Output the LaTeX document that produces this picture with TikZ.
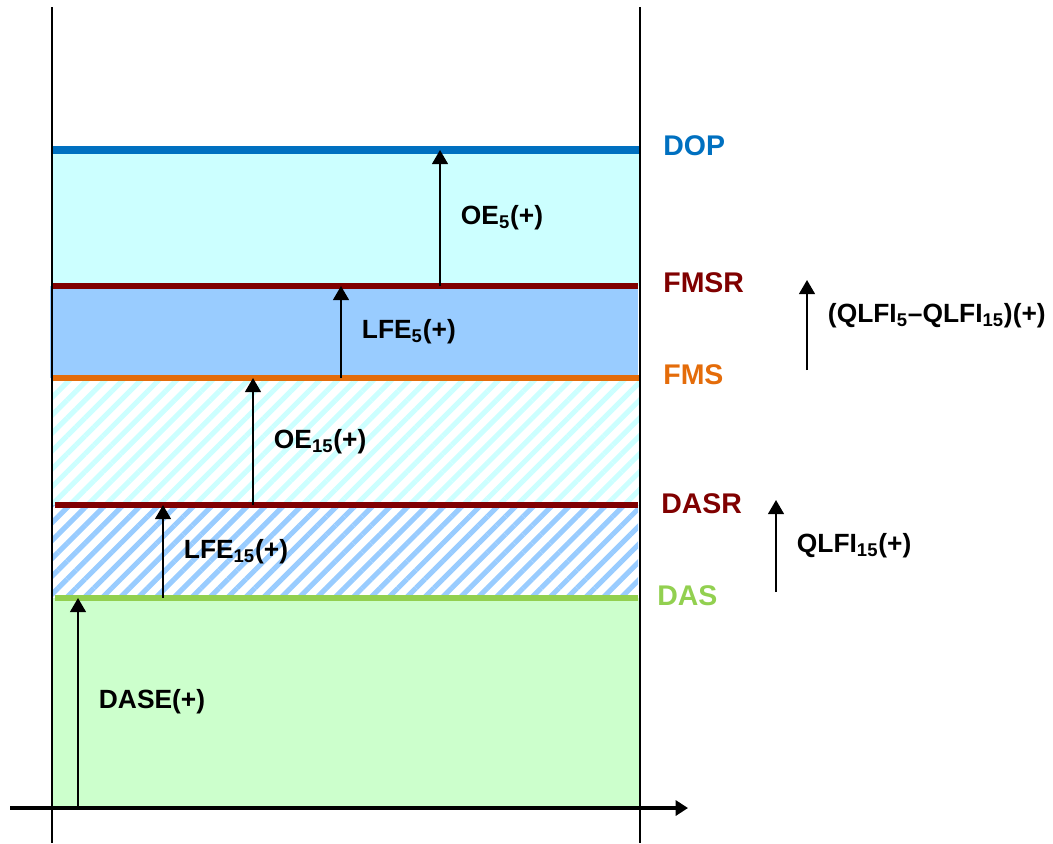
\documentclass[tikz,border=0pt]{standalone}
\usepackage{fontspec}
\setmainfont{Liberation Sans}
\usepackage{tikz}
\usetikzlibrary{arrows.meta}
\usetikzlibrary{patterns.meta}
\usetikzlibrary{positioning}

\definecolor{dopblue}{HTML}{0070C0}
\definecolor{refred}{HTML}{800000}
\definecolor{fmsorange}{HTML}{E46C0A}
\definecolor{dasgreen}{HTML}{92D050}
\definecolor{cyanfill}{HTML}{CCFFFF}
\definecolor{bluefill}{HTML}{99CCFF}
\definecolor{greenfill}{HTML}{CCFFCC}

\tikzset{
  level/.style={line width=3.4pt},
  border/.style={line width=0.8pt},
  axis/.style={line width=2.8pt, -{Triangle[length=7pt,width=8.5pt]}},
  rise/.style={line width=1.1pt, -{Triangle[length=8pt,width=9pt]}},
  lbl/.style={font=\fontsize{15}{17}\selectfont\bfseries, inner sep=0pt, right=0.4cm},
  tag/.style={font=\fontsize{16.2}{18}\selectfont\bfseries, inner sep=0pt, anchor=base west},
  hatch/.style={pattern={Lines[angle=45,distance=7.2pt,line width=2.9pt]}, pattern color=#1},
}

\begin{document}
\begin{tikzpicture}[x=0.02cm, y=-0.02cm]
  \useasboundingbox (0,0) rectangle (1053,843);

  \fill[cyanfill] (52,150) rectangle (640,286);
  \fill[bluefill] (50,286) rectangle (638,378);
  \fill[hatch=cyanfill] (52,378) rectangle (640,505);
  \fill[hatch=bluefill] (52,505) rectangle (638,598);
  \fill[greenfill] (52,598) rectangle (640,806);

  \draw[level, dopblue, line width=4pt] (52,150) -- (640,150);
  \draw[level, refred] (52,286) -- (638,286);
  \draw[level, fmsorange] (52,378) -- (640,378);
  \draw[level, refred] (55,505) -- (638,505);
  \draw[level, dasgreen] (55,598) -- (638,598);

  \draw[border] (52,7) -- (52,843);
  \draw[border] (640,7) -- (640,843);

  \node[tag, text=dopblue] (dop) at (663,155) {DOP};
  \node[tag, text=refred] (fmsr) at (663,292) {FMSR};
  \node[tag, text=fmsorange] (fms) at (663,384) {FMS};
  \node[tag, text=refred] (dasr) at (661,513) {DASR};
  \node[tag, text=dasgreen] (das) at (657,605) {DAS};

  \foreach \n/\x/\ya/\yb in {dase/78/806/598, lfel/163/598/505, oel/253/505/378,
      lfeh/341/378/286, oeh/440/286/150, qdiff/807/370/280, qlfi/776/592/500} {
    \coordinate (\n-s) at (\x,\ya);
    \coordinate (\n-e) at (\x,\yb);
  }
  \draw[rise] (dase-s) -- node[lbl] {DASE(+)} (dase-e);
  \draw[rise] (lfel-s) -- node[lbl] {LFE\textsubscript{15}(+)} (lfel-e);
  \draw[rise] (oel-s) -- node[lbl] {OE\textsubscript{15}(+)} (oel-e);
  \draw[rise] (lfeh-s) -- node[lbl] {LFE\textsubscript{5}(+)} (lfeh-e);
  \draw[rise] (oeh-s) -- node[lbl] {OE\textsubscript{5}(+)} (oeh-e);
  \draw[rise] (qdiff-s) -- node[lbl, pos=0.6] {(QLFI\textsubscript{5}–QLFI\textsubscript{15})(+)} (qdiff-e);
  \draw[rise] (qlfi-s) -- node[lbl] {QLFI\textsubscript{15}(+)} (qlfi-e);

  \coordinate (ax-s) at (10,808);
  \coordinate (ax-e) at (688,808);
  \draw[axis] (ax-s) -- (ax-e);
\end{tikzpicture}
\end{document}
